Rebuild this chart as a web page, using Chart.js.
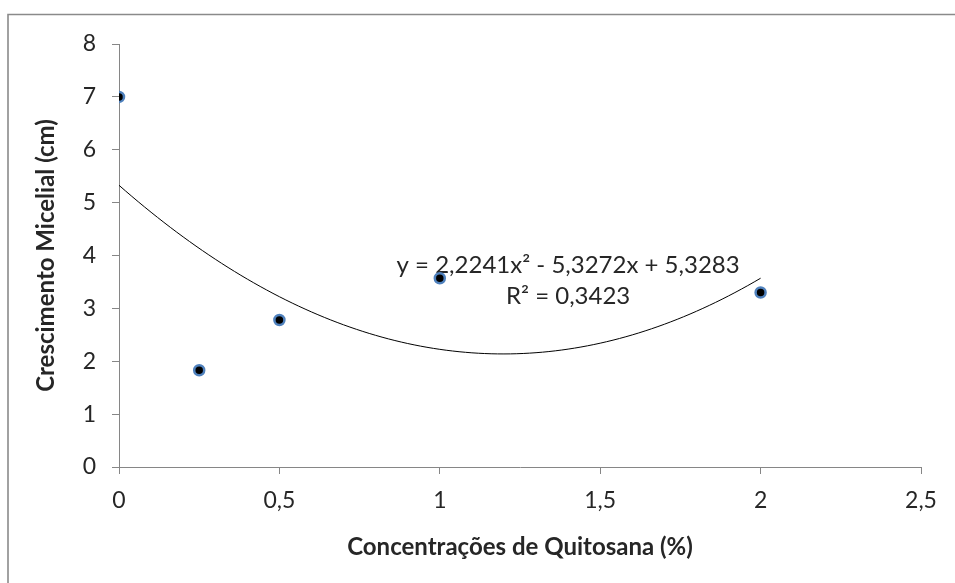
<!DOCTYPE html>
<html>
<head>
<meta charset="utf-8">
<script src="https://cdn.jsdelivr.net/npm/chart.js@4.4.0/dist/chart.umd.min.js"></script>
<style>
  html, body { margin: 0; padding: 0; background: #ffffff; }
  #wrap { width: 955px; height: 583px; position: relative; overflow: hidden; }
</style>
</head>
<body>
<div id="wrap"><canvas id="chart" width="955" height="583"></canvas></div>
<script>
// Mycelial growth measured at each chitosan concentration
const concentrations = [0, 0.25, 0.5, 1, 2];
const growth = [7, 1.83, 2.78, 3.57, 3.3];

// Polynomial trendline (order 2): y = a·x² + b·x + c
const trendCoefficients = [2.2241, -5.3272, 5.3283];
const rSquared = 0.3423;

// Axis ticks and titles
const xTickValues = [0, 0.5, 1, 1.5, 2, 2.5];
const yTickValues = [0, 1, 2, 3, 4, 5, 6, 7, 8];
const xTitle = 'Concentrações de Quitosana (%)';
const yTitle = 'Crescimento Micelial (cm)';

const FONT = 'Lato, "Open Sans", sans-serif';
const TEXT_COLOR = '#262626';
const AXIS_COLOR = '#868686';

const comma = v => String(v).replace('.', ',');

// Sample the trendline across the measured concentration range
const trendPoints = [];
{
  const [a, b, c] = trendCoefficients;
  const x0 = Math.min(...concentrations), x1 = Math.max(...concentrations);
  const steps = 100;
  for (let i = 0; i <= steps; i++) {
    const x = x0 + (x1 - x0) * i / steps;
    trendPoints.push({ x, y: a * x * x + b * x + c });
  }
}

const fmtCoef = v => comma(Math.abs(v).toFixed(4));
const [ca, cb, cc] = trendCoefficients;
const equationText = 'y = ' + fmtCoef(ca) + 'x² ' + (cb < 0 ? '- ' : '+ ') + fmtCoef(cb) + 'x ' + (cc < 0 ? '- ' : '+ ') + fmtCoef(cc);
const r2Text = 'R² = ' + comma(rSquared.toFixed(4));

// Light frame around the chart
const framePlugin = {
  id: 'frame',
  beforeDraw(chart) {
    const ctx = chart.ctx;
    ctx.save();
    ctx.strokeStyle = '#8a8a8a';
    ctx.lineWidth = 1.6;
    ctx.beginPath();
    ctx.moveTo(8, chart.height + 5);
    ctx.lineTo(8, 14.5);
    ctx.lineTo(chart.width + 5, 14.5);
    ctx.stroke();
    ctx.restore();
  }
};

// Trendline equation and R² label
const equationPlugin = {
  id: 'equation',
  beforeDatasetsDraw(chart) {
    const { ctx, scales: { x, y } } = chart;
    const cx = x.getPixelForValue(1.4);
    const by = y.getPixelForValue(3.67);
    ctx.save();
    ctx.fillStyle = TEXT_COLOR;
    ctx.font = '24px ' + FONT;
    ctx.textAlign = 'center';
    ctx.textBaseline = 'alphabetic';
    ctx.fillText(equationText, cx, by);
    ctx.fillText(r2Text, cx, by + 31);
    ctx.restore();
  }
};

new Chart(document.getElementById('chart'), {
  type: 'scatter',
  data: {
    datasets: [
      {
        label: 'Crescimento',
        data: concentrations.map((c, i) => ({ x: c, y: growth[i] })),
        backgroundColor: '#000000',
        borderColor: '#4f81bd',
        borderWidth: 2.5,
        pointRadius: 5,
        showLine: false
      },
      {
        label: 'Polinomial',
        data: trendPoints,
        showLine: true,
        borderColor: '#000000',
        borderWidth: 1,
        pointRadius: 0,
        fill: false,
        tension: 0
      }
    ]
  },
  options: {
    responsive: false,
    animation: false,
    events: [],
    layout: { padding: { left: 0, right: 34, top: 44, bottom: 0 } },
    plugins: {
      legend: { display: false },
      tooltip: { enabled: false }
    },
    scales: {
      x: {
        type: 'linear',
        min: 0,
        max: 2.5,
        afterBuildTicks: s => { s.ticks = xTickValues.map(v => ({ value: v })); },
        afterFit: s => { s.height = 116; },
        ticks: {
          callback: v => comma(v),
          color: TEXT_COLOR,
          font: { family: FONT, size: 23 },
          padding: 13,
          maxRotation: 0
        },
        grid: { display: true, drawOnChartArea: false, drawTicks: true, tickLength: 7, color: AXIS_COLOR, lineWidth: 1 },
        border: { display: true, color: AXIS_COLOR, width: 1 },
        title: {
          display: true,
          text: xTitle,
          color: TEXT_COLOR,
          font: { family: FONT, size: 24, weight: 'bold' },
          padding: { top: 0, bottom: 21 }
        }
      },
      y: {
        type: 'linear',
        min: 0,
        max: 8,
        afterBuildTicks: s => { s.ticks = yTickValues.map(v => ({ value: v })); },
        afterFit: s => { s.width = 119; },
        ticks: {
          callback: v => comma(v),
          color: TEXT_COLOR,
          font: { family: FONT, size: 23 },
          padding: 16
        },
        grid: { display: true, drawOnChartArea: false, drawTicks: true, tickLength: 7, color: AXIS_COLOR, lineWidth: 1 },
        border: { display: true, color: AXIS_COLOR, width: 1 },
        title: {
          display: true,
          text: yTitle,
          color: TEXT_COLOR,
          font: { family: FONT, size: 24, weight: 'bold' },
          padding: { top: 32, bottom: 0 }
        }
      }
    }
  },
  plugins: [framePlugin, equationPlugin]
});
</script>
</body>
</html>
